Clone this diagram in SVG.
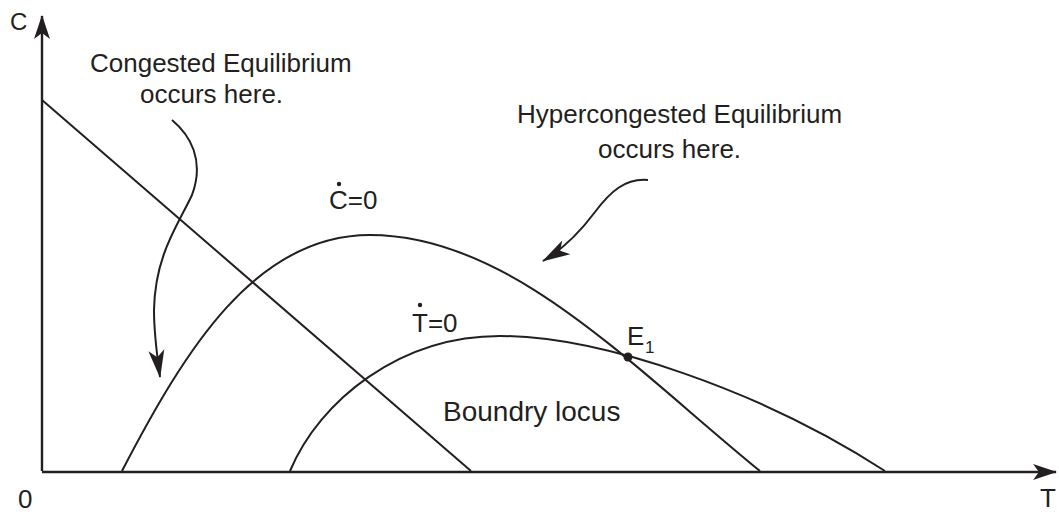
<svg xmlns="http://www.w3.org/2000/svg" width="1059" height="514" viewBox="0 0 1059 514">
<style>
text{font-family:"Liberation Sans",Arial,sans-serif;font-size:26px;fill:#231f20}
.ln{fill:none;stroke:#231f20;stroke-width:2}
.ax{fill:none;stroke:#231f20;stroke-width:2.4}
</style>
<defs>
<marker id="ah" viewBox="-26 -10 28 20" refX="0" refY="0" markerWidth="28" markerHeight="20" markerUnits="userSpaceOnUse" orient="auto">
<path d="M1,0 L-23,-8 L-17,0 L-23,8 Z" fill="#231f20"/>
</marker>
<marker id="ah2" viewBox="-30 -10 32 20" refX="0" refY="0" markerWidth="32" markerHeight="20" markerUnits="userSpaceOnUse" orient="auto">
<path d="M1,0 L-27,-8 L-20,0 L-27,8 Z" fill="#231f20"/>
</marker>
</defs>
<g id="axes">
<path class="ax" d="M42,471 L42,16" marker-end="url(#ah)"/>
<path class="ax" d="M42,472 L1056,472" marker-end="url(#ah)"/>
<text x="10" y="30" style="font-size:24px">C</text>
<text x="18" y="508">0</text>
<text x="1040" y="507">T</text>
</g>
<g id="boundary-locus">
<path class="ln" d="M42,100 L471,471"/>
<text x="443" y="421" style="font-size:28px">Boundry locus</text>
</g>
<g id="c-dot-curve">
<path class="ln" d="M122,471 C185,350 255,235 370,235 C510,235 630,365 760,471"/>
<text x="329" y="209">C=0</text>
<circle cx="339" cy="184" r="2.2" fill="#231f20"/>
</g>
<g id="t-dot-curve">
<path class="ln" d="M290,471 C320,400 400,336 500,336 C600,336 760,390 885,471"/>
<text x="412" y="332">T=0</text>
<circle cx="420" cy="305" r="2.2" fill="#231f20"/>
</g>
<g id="e1">
<circle cx="628" cy="357" r="4.5" fill="#231f20"/>
<text x="627" y="345">E</text>
<text x="645" y="353" style="font-size:17px">1</text>
</g>
<g id="congested-label">
<text x="90" y="72">Congested Equilibrium</text>
<text x="140" y="103">occurs here.</text>
</g>
<g id="hypercongested-label">
<text x="517" y="123">Hypercongested Equilibrium</text>
<text x="598" y="158">occurs here.</text>
</g>
<g id="connectors">
<path class="ln" d="M172,120 C190,135 205,160 192,195 C178,225 155,255 154,310 C154,335 157,355 160,377" marker-end="url(#ah2)"/>
<path class="ln" d="M648,180 C625,178 610,192 595,212 C580,232 565,248 543,261" marker-end="url(#ah2)"/>
</g>
</svg>
